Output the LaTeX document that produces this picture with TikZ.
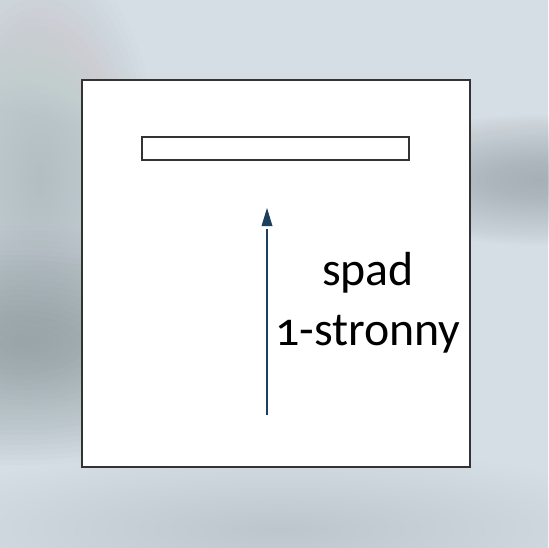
\documentclass[tikz,border=0pt]{standalone}
\usepackage{fontspec}
\setmainfont[Numbers=OldStyle]{Carlito}
\definecolor{bgc}{HTML}{D4DEE4}
\definecolor{bgdark}{HTML}{909BA0}
\definecolor{framec}{HTML}{333333}
\definecolor{arrowc}{HTML}{1B3F5C}
\tikzset{
  frame/.style={draw=framec, line width=1.5bp, fill=white},
  lbl/.style={font=\fontsize{48}{56}\selectfont, text=black, inner sep=0pt, anchor=base},
}
\newcommand{\myblob}[6]{% x, y, rx, ry, colour, opacity per ring
  \foreach \k in {1,...,24}{
    \fill[#5, opacity=#6] (#1,#2) ellipse ({#3*\k/24} and {#4*\k/24});
  }}
\begin{document}
\begin{tikzpicture}[x=1bp,y=-1bp]
\useasboundingbox (0,0) rectangle (548,548);
\fill[bgc] (0,0) rectangle (548,548);
\myblob{20}{345}{260}{120}{bgdark}{0.045}
\myblob{40}{180}{120}{230}{bgdark}{0.02}
\myblob{540}{180}{190}{65}{bgdark}{0.035}
\myblob{280}{530}{380}{80}{bgdark}{0.012}
\myblob{330}{40}{400}{110}{white}{0.02}
% main square and drain
\path[frame] (82,80) rectangle (470,467);
\path[frame, line width=1.3bp] (142,137) rectangle (409,160);
% arrow
\coordinate (tail) at (267,415);
\coordinate (head) at (267,229);
\coordinate (tip) at (267,208);
\draw[arrowc, line width=2bp] (tail) -- (head);
\fill[arrowc] (tip) -- ([shift={(-5.5,18)}]tip) -- ([shift={(5.5,18)}]tip) -- cycle;
% labels
\node[lbl] (l1) at (368,285) {spad};
\node[lbl] (l2) at (368,345) {1-stronny};
\end{tikzpicture}
\end{document}
